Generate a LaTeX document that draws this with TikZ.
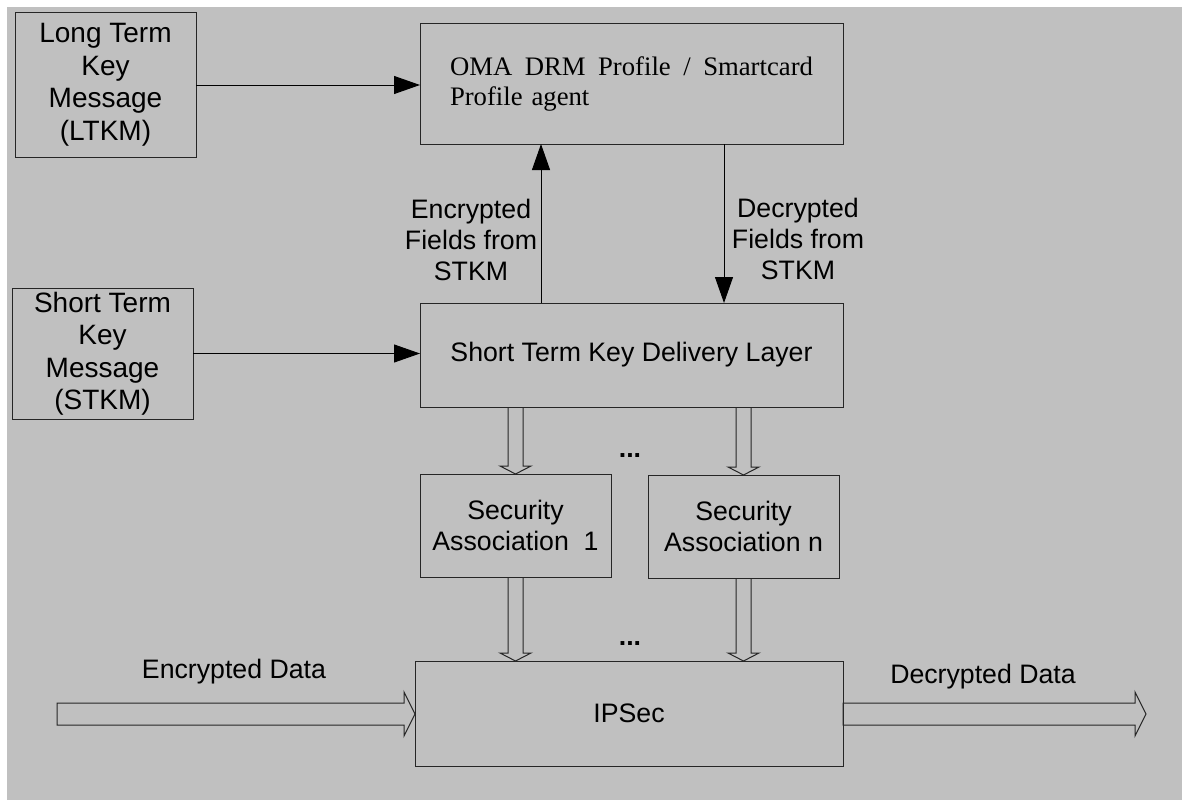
\documentclass[tikz,border=0pt]{standalone}
\usepackage{fontspec}
\setmainfont{Liberation Serif}
\newfontfamily\arialf{Liberation Sans}
\usetikzlibrary{arrows.meta,calc}
\definecolor{bggray}{HTML}{C0C0C0}
\definecolor{edge}{HTML}{262626}
\tikzset{
  box/.style={draw=edge, line width=1pt, fill=bggray, rectangle, inner sep=0pt, outer sep=0pt, align=center,
    font=\arialf\fontsize{26.7pt}{31pt}\selectfont},
  bigtext/.style={font=\arialf\fontsize{28pt}{32.5pt}\selectfont},
  lbl/.style={inner sep=0pt, align=center, font=\arialf\fontsize{26.7pt}{31pt}\selectfont},
  thinarrow/.style={draw=black, line width=1pt, -{Triangle[length=26pt,width=18pt]}},
  hollowstyle/.style={draw=edge, line width=1pt, line join=miter}
}
\newcommand\vhollow[2]{\draw[hollowstyle] let \p1=#1, \p2=#2 in
  (\x1-7.5pt,\y1) -- (\x1-7.5pt,\y2+8pt) -- (\x1-15.5pt,\y2+8pt) -- (\x1,\y2)
  -- (\x1+15.5pt,\y2+8pt) -- (\x1+7.5pt,\y2+8pt) -- (\x1+7.5pt,\y1);}
\newcommand\hhollow[2]{\draw[hollowstyle] let \p1=#1, \p2=#2 in
  (\x1,\y1+11pt) -- (\x2-11pt,\y1+11pt) -- (\x2-11pt,\y1+22pt) -- (\x2,\y1)
  -- (\x2-11pt,\y1-22pt) -- (\x2-11pt,\y1-11pt) -- (\x1,\y1-11pt) -- cycle;}
\begin{document}
\begin{tikzpicture}[x=1pt,y=-1pt]
\useasboundingbox (0,0) rectangle (1182,800);
\fill[bggray] (7,7) rectangle (1182,800);

% boxes
\node[box, bigtext, minimum width=181pt, minimum height=144pt] (ltkm) at (105.5,85) {Long Term\\Key\\Message\\(LTKM)};
\node[box, bigtext, minimum width=181pt, minimum height=131pt] (stkm) at (102.5,353.5) {Short Term\\Key\\Message\\(STKM)};
\node[box, minimum width=423pt, minimum height=120pt, text width=363pt, align=left,
  font=\fontsize{26.7pt}{30.5pt}\selectfont] (oma) at (631.5,84)
  {\hbox to 363pt{OMA\hfill DRM\hfill Profile\hfill /\hfill Smartcard}\\Profile agent};
\node[box, minimum width=423pt, minimum height=104pt] (stk) at (631.5,355) {Short Term Key Delivery Layer};
\node[box, minimum width=191pt, minimum height=103pt] (sa1) at (515.5,525.5) {Security\\Association\ \ 1};
\node[box, minimum width=191pt, minimum height=103pt] (san) at (743.5,526.5) {Security\\Association n};
\node[box, minimum width=428pt, minimum height=105pt] (ips) at (629,713.5) {IPSec};

% labels
\node[lbl] (encl) at (471,240) {Encrypted\\Fields from\\STKM};
\node[lbl] (decl) at (798,239) {Decrypted\\Fields from\\STKM};
\node[lbl, anchor=base, font=\arialf\bfseries\fontsize{26.7pt}{31pt}\selectfont] (dots1) at (630,457) {...};
\node[lbl, anchor=base, font=\arialf\bfseries\fontsize{26.7pt}{31pt}\selectfont] (dots2) at (630,645) {...};
\node[lbl] (edl) at (234,672) {Encrypted Data};
\node[lbl] (ddl) at (983,677) {Decrypted Data};

% thin arrows
\coordinate (eu) at (541,0);
\coordinate (du) at (724,0);
\draw[thinarrow] (ltkm.east) -- (ltkm.east -| oma.west);
\draw[thinarrow] (stkm.east) -- (stkm.east -| stk.west);
\draw[thinarrow] (stk.north -| eu) -- (oma.south -| eu);
\draw[thinarrow] (oma.south -| du) -- (stk.north -| du);

% hollow arrows
\vhollow{(sa1.north |- stk.south)}{(sa1.north)}
\vhollow{(san.north |- stk.south)}{(san.north)}
\vhollow{(sa1.south)}{(sa1.south |- ips.north)}
\vhollow{(san.south)}{(san.south |- ips.north)}
\coordinate (edin) at (57,714);
\coordinate (edout) at (1146,714);
\hhollow{(edin)}{(ips.west |- edin)}
\hhollow{(ips.east |- edout)}{(edout)}
\end{tikzpicture}
\end{document}
